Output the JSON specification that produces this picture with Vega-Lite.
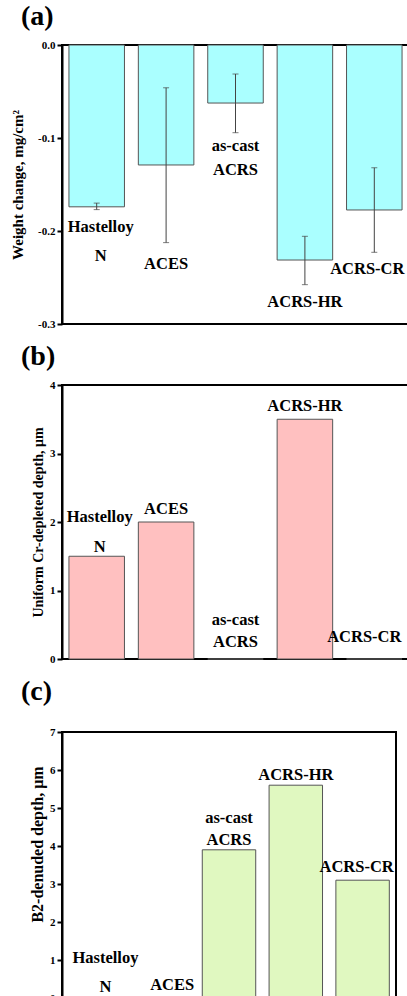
{
  "$schema": "https://vega.github.io/schema/vega-lite/v6.json",
  "padding": {"left": 9, "top": 2, "right": 0, "bottom": 0},
  "config": {
    "font": "Liberation Serif",
    "view": {"stroke": "black", "strokeWidth": 2},
    "axis": {"labelFont": "Liberation Serif", "labelFontWeight": "bold", "labelFontSize": 11, "labelColor": "black", "titleFont": "Liberation Serif", "titleFontWeight": "bold", "titleFontSize": 14, "titleColor": "black", "domainColor": "black", "domainWidth": 2, "tickColor": "black", "tickWidth": 2, "tickSize": 5, "labelPadding": 2, "grid": false, "labelOverlap": false},
    "title": {"font": "Liberation Serif", "fontSize": 28, "fontWeight": "bold", "anchor": "start", "frame": "group", "dx": -41, "color": "black", "offset": 8},
    "concat": {"spacing": 12},
    "text": {"font": "Liberation Serif", "fontWeight": "bold", "fontSize": 16.5, "color": "black", "baseline": "middle"}
  },
  "datasets": {
    "wc": [
      {"alloy": "Hastelloy N", "value": -0.174, "lo": -0.177, "hi": -0.170},
      {"alloy": "ACES", "value": -0.129, "lo": -0.2125, "hi": -0.046},
      {"alloy": "as-cast ACRS", "value": -0.0624, "lo": -0.0943, "hi": -0.0312},
      {"alloy": "ACRS-HR", "value": -0.2312, "lo": -0.2577, "hi": -0.2057},
      {"alloy": "ACRS-CR", "value": -0.1774, "lo": -0.2229, "hi": -0.132}
    ],
    "wcLabels": [
      {"alloy": "Hastelloy N", "text": "Hastelloy", "ly": -0.196},
      {"alloy": "Hastelloy N", "text": "N", "ly": -0.227},
      {"alloy": "ACES", "text": "ACES", "ly": -0.2355},
      {"alloy": "as-cast ACRS", "text": "as-cast", "ly": -0.1086},
      {"alloy": "as-cast ACRS", "text": "ACRS", "ly": -0.1344},
      {"alloy": "ACRS-HR", "text": "ACRS-HR", "ly": -0.2763},
      {"alloy": "ACRS-CR", "text": "ACRS-CR", "ly": -0.2409}
    ],
    "cr": [
      {"alloy": "Hastelloy N", "value": 1.5},
      {"alloy": "ACES", "value": 2.0},
      {"alloy": "as-cast ACRS", "value": 0},
      {"alloy": "ACRS-HR", "value": 3.5},
      {"alloy": "ACRS-CR", "value": 0}
    ],
    "crLabels": [
      {"alloy": "Hastelloy N", "text": "Hastelloy", "ly": 2.07},
      {"alloy": "Hastelloy N", "text": "N", "ly": 1.63},
      {"alloy": "ACES", "text": "ACES", "ly": 2.19},
      {"alloy": "as-cast ACRS", "text": "as-cast", "ly": 0.57},
      {"alloy": "as-cast ACRS", "text": "ACRS", "ly": 0.25},
      {"alloy": "ACRS-HR", "text": "ACRS-HR", "ly": 3.69},
      {"alloy": "ACRS-CR", "text": "ACRS-CR", "ly": 0.32}
    ],
    "b2": [
      {"alloy": "Hastelloy N", "value": 0},
      {"alloy": "ACES", "value": 0},
      {"alloy": "as-cast ACRS", "value": 3.9},
      {"alloy": "ACRS-HR", "value": 5.6},
      {"alloy": "ACRS-CR", "value": 3.1}
    ],
    "b2Labels": [
      {"alloy": "Hastelloy N", "text": "Hastelloy", "ly": 1.05},
      {"alloy": "Hastelloy N", "text": "N", "ly": 0.28},
      {"alloy": "ACES", "text": "ACES", "ly": 0.33},
      {"alloy": "as-cast ACRS", "text": "as-cast", "ly": 4.73},
      {"alloy": "as-cast ACRS", "text": "ACRS", "ly": 4.15},
      {"alloy": "ACRS-HR", "text": "ACRS-HR", "ly": 5.86},
      {"alloy": "ACRS-CR", "text": "ACRS-CR", "ly": 3.44}
    ]
  },
  "vconcat": [
    {
      "title": "(a)",
      "width": 347,
      "height": 279,
      "layer": [
        {
          "data": {"name": "wc"},
          "mark": {"type": "bar", "fill": "#aaffff", "stroke": "#555555", "strokeWidth": 1},
          "encoding": {
            "x": {"field": "alloy", "type": "nominal", "scale": {"domain": ["Hastelloy N", "ACES", "as-cast ACRS", "ACRS-HR", "ACRS-CR"], "paddingInner": 0.2, "paddingOuter": 0.1}, "axis": null},
            "y": {"field": "value", "type": "quantitative", "scale": {"domain": [-0.3, 0], "nice": false}, "axis": {"title": "Weight change, mg/cm²", "titleFontSize": 15, "values": [-0.3, -0.2, -0.1, 0], "labelExpr": "datum.value == 0 ? '0.0' : '-' + format(abs(datum.value), '.1f')", "titlePadding": 12, "labelOverlap": false}}
          }
        },
        {
          "data": {"name": "wc"},
          "mark": {"type": "rule", "color": "#444444", "strokeWidth": 1},
          "encoding": {
            "x": {"field": "alloy", "type": "nominal"},
            "y": {"field": "lo", "type": "quantitative"},
            "y2": {"field": "hi"}
          }
        },
        {
          "data": {"name": "wc"},
          "mark": {"type": "tick", "color": "#444444", "size": 6, "thickness": 1, "orient": "horizontal"},
          "encoding": {
            "x": {"field": "alloy", "type": "nominal"},
            "y": {"field": "lo", "type": "quantitative"}
          }
        },
        {
          "data": {"name": "wc"},
          "mark": {"type": "tick", "color": "#444444", "size": 6, "thickness": 1, "orient": "horizontal"},
          "encoding": {
            "x": {"field": "alloy", "type": "nominal"},
            "y": {"field": "hi", "type": "quantitative"}
          }
        },
        {
          "data": {"name": "wcLabels"},
          "transform": [{"filter": "datum.alloy != 'Hastelloy N' && datum.alloy != 'ACRS-CR'"}],
          "mark": {"type": "text"},
          "encoding": {
            "x": {"field": "alloy", "type": "nominal"},
            "y": {"field": "ly", "type": "quantitative"},
            "text": {"field": "text"}
          }
        },
        {
          "data": {"name": "wcLabels"},
          "transform": [{"filter": "datum.alloy == 'Hastelloy N'"}],
          "mark": {"type": "text", "dx": 4},
          "encoding": {
            "x": {"field": "alloy", "type": "nominal"},
            "y": {"field": "ly", "type": "quantitative"},
            "text": {"field": "text"}
          }
        },
        {
          "data": {"name": "wcLabels"},
          "transform": [{"filter": "datum.alloy == 'ACRS-CR'"}],
          "mark": {"type": "text", "dx": -7},
          "encoding": {
            "x": {"field": "alloy", "type": "nominal"},
            "y": {"field": "ly", "type": "quantitative"},
            "text": {"field": "text"}
          }
        }
      ]
    },
    {
      "title": "(b)",
      "width": 347,
      "height": 274,
      "layer": [
        {
          "data": {"name": "cr"},
          "mark": {"type": "bar", "fill": "#ffc0c0", "stroke": "#555555", "strokeWidth": 1},
          "encoding": {
            "x": {"field": "alloy", "type": "nominal", "scale": {"domain": ["Hastelloy N", "ACES", "as-cast ACRS", "ACRS-HR", "ACRS-CR"], "paddingInner": 0.2, "paddingOuter": 0.1}, "axis": null},
            "y": {"field": "value", "type": "quantitative", "scale": {"domain": [0, 4], "nice": false}, "axis": {"title": "Uniform Cr-depleted depth, μm", "values": [0, 1, 2, 3, 4], "format": "d", "labelOverlap": false}}
          }
        },
        {
          "data": {"name": "crLabels"},
          "transform": [{"filter": "datum.alloy != 'Hastelloy N' && datum.alloy != 'ACRS-CR'"}],
          "mark": {"type": "text"},
          "encoding": {
            "x": {"field": "alloy", "type": "nominal"},
            "y": {"field": "ly", "type": "quantitative"},
            "text": {"field": "text"}
          }
        },
        {
          "data": {"name": "crLabels"},
          "transform": [{"filter": "datum.alloy == 'Hastelloy N'"}],
          "mark": {"type": "text", "dx": 3},
          "encoding": {
            "x": {"field": "alloy", "type": "nominal"},
            "y": {"field": "ly", "type": "quantitative"},
            "text": {"field": "text"}
          }
        },
        {
          "data": {"name": "crLabels"},
          "transform": [{"filter": "datum.alloy == 'ACRS-CR'"}],
          "mark": {"type": "text", "dx": -10},
          "encoding": {
            "x": {"field": "alloy", "type": "nominal"},
            "y": {"field": "ly", "type": "quantitative"},
            "text": {"field": "text"}
          }
        }
      ]
    },
    {
      "title": {"text": "(c)", "offset": 20},
      "width": 334,
      "height": 266,
      "layer": [
        {
          "data": {"name": "b2"},
          "mark": {"type": "bar", "fill": "#e0f8c0", "stroke": "#555555", "strokeWidth": 1},
          "encoding": {
            "x": {"field": "alloy", "type": "nominal", "scale": {"domain": ["Hastelloy N", "ACES", "as-cast ACRS", "ACRS-HR", "ACRS-CR"], "paddingInner": 0.2, "paddingOuter": 0.1}, "axis": null},
            "y": {"field": "value", "type": "quantitative", "scale": {"domain": [0, 7], "nice": false}, "axis": {"title": "B2-denuded depth, μm", "titleFontSize": 16, "tickCount": 7, "labelExpr": "format(datum.value, 'd')", "titleY": 112, "labelOverlap": false}}
          }
        },
        {
          "data": {"name": "b2Labels"},
          "transform": [{"filter": "datum.alloy != 'Hastelloy N' && datum.alloy != 'ACES' && datum.alloy != 'ACRS-CR'"}],
          "mark": {"type": "text"},
          "encoding": {
            "x": {"field": "alloy", "type": "nominal"},
            "y": {"field": "ly", "type": "quantitative"},
            "text": {"field": "text"}
          }
        },
        {
          "data": {"name": "b2Labels"},
          "transform": [{"filter": "datum.alloy == 'Hastelloy N' || datum.alloy == 'ACES'"}],
          "mark": {"type": "text", "dx": 10},
          "encoding": {
            "x": {"field": "alloy", "type": "nominal"},
            "y": {"field": "ly", "type": "quantitative"},
            "text": {"field": "text"}
          }
        },
        {
          "data": {"name": "b2Labels"},
          "transform": [{"filter": "datum.alloy == 'ACRS-CR'"}],
          "mark": {"type": "text", "dx": -6},
          "encoding": {
            "x": {"field": "alloy", "type": "nominal"},
            "y": {"field": "ly", "type": "quantitative"},
            "text": {"field": "text"}
          }
        }
      ]
    }
  ]
}
